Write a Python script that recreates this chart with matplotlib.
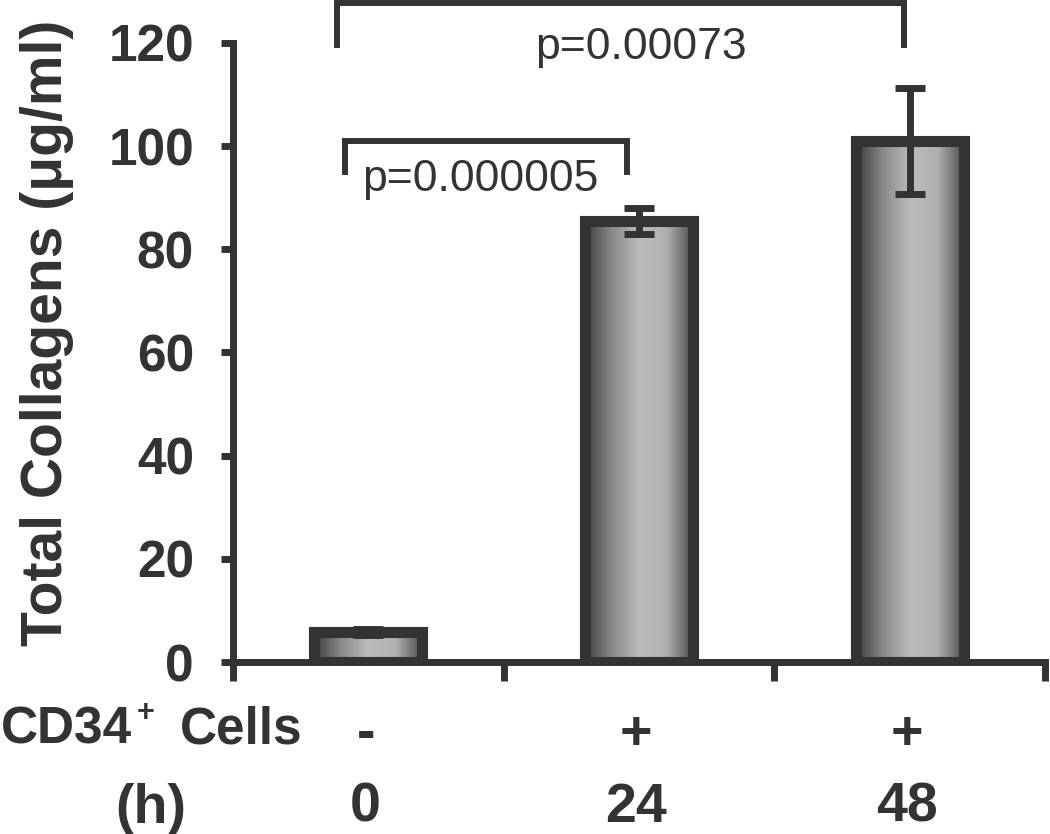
"""
Total collagens with / without CD34+ cells
"""
import numpy as np
import matplotlib
matplotlib.use('Agg')
import matplotlib.pyplot as plt
from matplotlib.colors import LinearSegmentedColormap
from matplotlib.patches import Rectangle

# data
cells = ['-', '+', '+']
hours = ['0', '24', '48']
collagen = [5.8, 85.5, 101.0]
errors = [0.6, 2.5, 10.2]
p_labels = ['p=0.000005', 'p=0.00073']

dark = '#333333'
plt.rcParams['font.family'] = ['Liberation Sans', 'DejaVu Sans']

W, H = 1050, 834
fig = plt.figure(figsize=(W/100, H/100), dpi=100)
ax = fig.add_axes([233/W, 172/H, 812/W, 619/H])

x = np.arange(len(collagen))
width = 0.40

# horizontal grey shading inside the bars
shade = LinearSegmentedColormap.from_list(
    'shade', ['#3c3c3c', '#8a8a8a', '#bcbcbc', '#b0b0b0', '#4a4a4a'])
grad = np.linspace(0, 1, 256).reshape(1, -1)
for xi, h in zip(x, collagen):
    ax.imshow(grad, cmap=shade, aspect='auto', zorder=2,
              extent=(xi - width/2, xi + width/2, 0, h))
    ax.add_patch(Rectangle((xi - width/2, 0), width, h, facecolor='none',
                           edgecolor=dark, linewidth=8, zorder=3,
                           joinstyle='miter'))

ax.errorbar(x, collagen, yerr=errors, fmt='none', ecolor=dark,
            elinewidth=5, capsize=11, capthick=5, zorder=4)

ax.set_xlim(-0.5, 2.5)
ax.set_ylim(0, 120)

# axes styling
for side in ['top', 'right']:
    ax.spines[side].set_visible(False)
for side in ['left', 'bottom']:
    ax.spines[side].set_linewidth(5)
    ax.spines[side].set_color(dark)
    ax.spines[side].set_capstyle('projecting')

ax.set_yticks(np.arange(0, 121, 20))
ax.set_xticks([-0.5, 0.5, 1.5, 2.5])
ax.set_xticklabels([])
ax.tick_params(axis='y', length=9, width=5, color=dark, pad=19,
               labelsize=37, labelcolor=dark)
ax.tick_params(axis='x', length=14, width=5, color=dark)
for lbl in ax.get_yticklabels():
    lbl.set_fontweight('bold')

fig.text(47/W, 1 - 333/H, 'Total Collagens (\u03bcg/ml)', rotation=90,
         fontsize=41, fontweight='bold', color=dark,
         ha='center', va='center')

# significance brackets
ax.plot([-0.086, -0.086, 0.955, 0.955], [95.0, 101.0, 101.0, 95.0],
        color=dark, linewidth=4.3, clip_on=False, solid_joinstyle='miter')
ax.plot([-0.116, -0.116, 1.979, 1.979], [119.6, 127.8, 127.8, 119.6],
        color=dark, linewidth=4.3, clip_on=False, solid_joinstyle='miter')
ax.text(0.412, 93.6, p_labels[0], fontsize=32, color=dark,
        ha='center', va='center')
ax.text(1.007, 119.2, p_labels[1], fontsize=32, color=dark,
        ha='center', va='center')

# category labels under the axis
tr = ax.get_xaxis_transform()
for xi, c, h in zip(x, cells, hours):
    ax.text(xi - 0.01, -(749 - 662)/619, c, transform=tr, fontsize=40,
            fontweight='bold', color=dark, ha='center', va='baseline')
    ax.text(xi - 0.01, -(822 - 662)/619, h, transform=tr, fontsize=40,
            fontweight='bold', color=dark, ha='center', va='baseline')

fig.text(1/W, 1 - 743/H, 'CD34', fontsize=37, fontweight='bold',
         color=dark, ha='left', va='baseline')
fig.text(146/W, 1 - 721/H, '+', fontsize=22, fontweight='bold',
         color=dark, ha='center', va='baseline')
fig.text(303/W, 1 - 743/H, 'Cells', fontsize=37, fontweight='bold',
         color=dark, ha='right', va='baseline')
fig.text(151/W, 1 - 823/H, '(h)', fontsize=40, fontweight='bold',
         color=dark, ha='center', va='baseline')

fig.savefig('out.png', dpi=100)
